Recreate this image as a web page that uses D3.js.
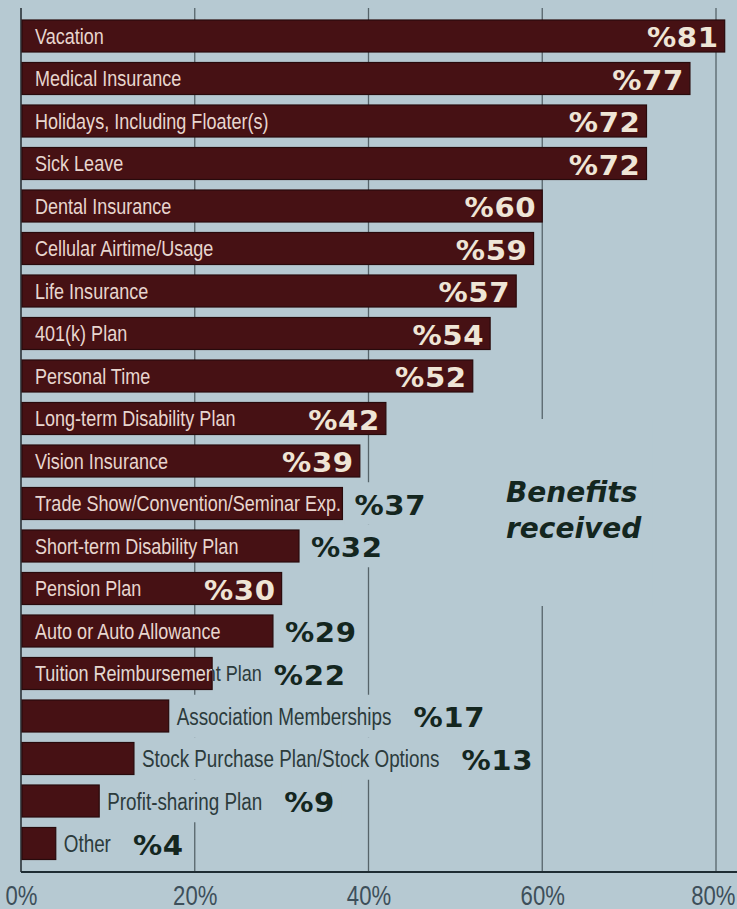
<!DOCTYPE html>
<html>
<head>
<meta charset="utf-8">
<script src="https://cdn.jsdelivr.net/npm/d3@7"></script>
<style>
  html, body { margin: 0; padding: 0; background: #b6c9d2; }
  svg { display: block; }
  .name { font-family: 'Liberation Sans', Arial, sans-serif; }
  .val { font-family: 'DejaVu Sans', sans-serif; font-weight: bold; letter-spacing: 0.6px; }
  .tick text { font-family: 'Liberation Sans', Arial, sans-serif; }
</style>
</head>
<body>
<svg id="chart" width="737" height="909"></svg>
<script>
// Share of respondents receiving each benefit (%)
const categories = [
  "Vacation",
  "Medical Insurance",
  "Holidays, Including Floater(s)",
  "Sick Leave",
  "Dental Insurance",
  "Cellular Airtime/Usage",
  "Life Insurance",
  "401(k) Plan",
  "Personal Time",
  "Long-term Disability Plan",
  "Vision Insurance",
  "Trade Show/Convention/Seminar Exp.",
  "Short-term Disability Plan",
  "Pension Plan",
  "Auto or Auto Allowance",
  "Tuition Reimbursement Plan",
  "Association Memberships",
  "Stock Purchase Plan/Stock Options",
  "Profit-sharing Plan",
  "Other"
];
const values = [81, 77, 72, 72, 60, 59, 57, 54, 52, 42, 39, 37, 32, 30, 29, 22, 17, 13, 9, 4];
const tickValues = [0, 20, 40, 60, 80];
const titleLines = ["Benefits", "received"];

const W = 737, H = 909;
const BG = "#b6c9d2";
const BAR = "#461114";
const BAR_EDGE = "#280a0c";
const LIGHT = "#efe5d6";
const NAME_LIGHT = "#e8d6cf";
const DARK = "#14261f";
const NAME_DARK = "#2c3b3c";
const NARROW = 0.82;   // condensed name lettering
const WIDE = 1.08;     // extended value lettering

const svg = d3.select("#chart");
svg.append("rect").attr("width", W).attr("height", H).attr("fill", BG);

const x = d3.scaleLinear().domain([0, 80]).range([21, 716]);
const y = d3.scaleBand().domain(categories).range([14.75, 864.75])
  .paddingInner(0.247).paddingOuter(0.1235);
const axisY = 872, gridTop = 8;

// text drawn with a horizontal stretch; returns its drawn width
function stext(parent, tx, ty, str, cls, size, fill, sx, anchor) {
  const g = parent.append("g").attr("transform", `translate(${tx},${ty}) scale(${sx},1)`);
  const t = g.append("text").attr("class", cls).attr("font-size", size)
    .attr("fill", fill).attr("text-anchor", anchor || "start").text(str);
  return { g, t, w: t.node().getComputedTextLength() * sx };
}

// vertical gridlines and left axis
svg.append("g").selectAll("line").data(tickValues.slice(1)).join("line")
  .attr("x1", d => x(d)).attr("x2", d => x(d))
  .attr("y1", gridTop).attr("y2", axisY)
  .attr("stroke", "#56646a").attr("stroke-width", 1.3);
svg.append("line").attr("x1", x(0)).attr("x2", x(0))
  .attr("y1", gridTop).attr("y2", axisY)
  .attr("stroke", "#2a3238").attr("stroke-width", 1.6);

// title with a background panel that interrupts the gridlines
const titleG = svg.append("g");
const titleBox = titleG.append("rect").attr("fill", BG);
const titleText = titleG.append("text")
  .attr("font-family", "'DejaVu Sans', sans-serif")
  .attr("font-weight", "bold").attr("font-style", "italic")
  .attr("font-size", 28).attr("fill", DARK);
titleText.selectAll("tspan").data(titleLines).join("tspan")
  .attr("x", 506).attr("y", (d, i) => 502 + i * 36).text(d => d);
const tb = titleText.node().getBBox();
titleBox.attr("x", tb.x - 10).attr("y", tb.y - 57)
  .attr("width", tb.width + 20).attr("height", tb.height + 118);

const defs = svg.append("defs");
const rows = svg.append("g");
const barH = y.bandwidth();
const gap = y.step() - barH;

categories.forEach((cat, i) => {
  const v = values[i];
  const label = "%" + v;
  const top = y(cat);
  const x0 = x(0), x1 = x(v);
  const g = rows.append("g");
  const bgLayer = g.append("g");

  g.append("rect")
    .attr("x", x0 + 1).attr("y", top)
    .attr("width", x1 - x0 - 1).attr("height", barH)
    .attr("fill", BAR).attr("stroke", BAR_EDGE).attr("stroke-width", 1.2);

  const nameInside = v >= 20;
  const nameY = top + barH / 2 + 7.5;
  const valY = top + barH - 5;
  let outsideEnd = null;

  if (nameInside) {
    const nx = x0 + 14;
    // dark copy shows where the name runs past the bar end
    const dark = stext(g, nx, nameY, cat, "name", 22, NAME_DARK, NARROW);
    const nameEnd = nx + dark.w;
    const clipId = "clip" + i;
    defs.append("clipPath").attr("id", clipId).append("rect")
      .attr("x", x0).attr("y", top).attr("width", x1 - x0).attr("height", barH);
    const clipped = g.append("g").attr("clip-path", `url(#${clipId})`);
    stext(clipped, nx, nameY, cat, "name", 22, NAME_LIGHT, NARROW);
    if (nameEnd <= x1) dark.g.remove();

    const probe = stext(g, 0, 0, label, "val", 27, "none", WIDE);
    const vw = probe.w;
    probe.g.remove();
    if (x1 - nameEnd - 14 >= vw) {
      stext(g, x1 - 6, valY, label, "val", 27, LIGHT, WIDE, "end");
    } else {
      const vx = Math.max(x1, nameEnd) + 12;
      const t = stext(g, vx, valY, label, "val", 27, DARK, WIDE);
      outsideEnd = vx + t.w;
    }
  } else {
    const nx = x1 + 8;
    const nm = stext(g, nx, nameY + 1, cat, "name", 23, NAME_DARK, NARROW);
    const vx = nx + nm.w + 22;
    const t = stext(g, vx, valY, label, "val", 27, DARK, WIDE);
    outsideEnd = vx + t.w;
  }

  // background behind labels set outside the bar
  if (outsideEnd !== null) {
    bgLayer.append("rect")
      .attr("x", x1 + 2).attr("y", top - gap / 2)
      .attr("width", outsideEnd + 6 - x1 - 2).attr("height", y.step())
      .attr("fill", BG);
  }
});

// x axis
const axis = svg.append("g").attr("transform", `translate(0,${axisY})`)
  .call(d3.axisBottom(x).tickValues(tickValues).tickFormat(d => d + "%").tickSize(0).tickPadding(0));
axis.select(".domain").remove();
axis.selectAll(".tick text")
  .attr("y", 33).attr("dy", 0)
  .attr("transform", `scale(${NARROW},1)`)
  .attr("font-size", 27).attr("fill", "#3d4f5a");
// keep the last label inside the right edge
axis.selectAll(".tick").filter(d => d === tickValues[tickValues.length - 1])
  .select("text").attr("text-anchor", "end").attr("x", (W - 2 - x(80)) / NARROW);
svg.append("line").attr("x1", x(0)).attr("x2", W)
  .attr("y1", axisY).attr("y2", axisY)
  .attr("stroke", "#1e2c33").attr("stroke-width", 2);
</script>
</body>
</html>
